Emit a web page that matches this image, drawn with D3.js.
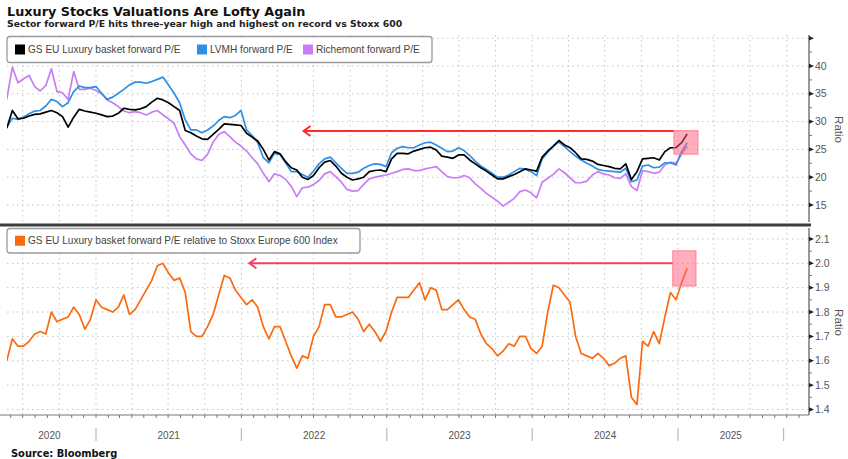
<!DOCTYPE html>
<html><head><meta charset="utf-8">
<script src="https://cdn.jsdelivr.net/npm/d3@7"></script>
<style>body{margin:0;background:#fff}svg{display:block}</style>
</head><body>
<svg id="chart" width="848" height="459"></svg>
<script>
// ---------- DATA ----------
const startDate = "2020-05-22";   // first observation
const stepDays = 14;              // bi-weekly observations
const gsLuxuryPE = [28.8,32.0,30.5,30.6,31.0,31.3,31.4,31.7,32.0,31.6,
  30.9,29.0,30.8,32.2,31.9,31.7,31.5,31.2,30.9,31.0,
  31.5,32.4,32.2,32.1,32.3,32.7,33.5,34.2,33.9,33.4,
  32.7,32.0,28.4,28.0,27.4,26.9,26.8,27.7,28.6,29.6,
  29.5,29.4,29.3,27.9,27.2,26.5,25.0,23.1,24.6,24.2,
  22.8,21.7,21.3,20.0,19.6,20.3,21.7,22.7,23.0,22.0,
  20.7,20.0,19.5,19.7,20.0,21.0,21.2,21.3,21.0,23.3,
  24.3,24.3,24.2,24.7,25.0,25.3,25.4,24.9,23.8,23.6,
  23.4,24.0,24.0,23.1,22.4,21.7,21.1,20.4,19.7,19.7,
  20.1,20.5,21.0,21.5,21.3,21.1,23.6,24.7,25.6,26.6,
  25.8,25.3,24.4,23.3,23.2,22.9,22.3,22.1,21.9,21.6,
  21.5,22.4,19.6,21.0,23.3,23.4,23.5,23.1,24.6,25.3,
  25.3,26.2,27.8];
const lvmhPE = [29.0,30.6,30.4,30.8,31.4,31.9,32.0,32.8,34.0,33.6,
  32.7,33.4,35.4,36.4,36.1,36.1,36.3,35.1,34.0,34.4,
  35.1,35.8,36.6,37.1,37.1,36.9,37.2,37.6,38.0,36.6,
  35.1,33.4,30.3,28.5,28.5,28.0,28.5,29.2,30.2,30.9,
  30.7,31.1,32.0,28.5,27.5,26.2,23.5,22.6,24.3,24.1,
  22.6,21.0,21.0,20.5,20.0,21.1,22.4,23.3,23.6,22.6,
  21.6,20.7,20.7,20.9,21.6,22.1,22.4,22.3,21.9,24.4,
  25.2,25.5,25.3,25.3,25.8,26.2,26.3,25.8,25.2,24.6,
  24.7,25.3,24.8,23.9,22.9,22.0,21.4,20.7,20.0,20.0,
  20.4,21.0,21.6,21.4,21.0,20.3,23.3,24.5,25.6,26.3,
  25.5,24.6,23.8,23.1,22.5,22.0,21.4,21.2,21.1,21.0,
  20.9,21.6,19.2,19.5,22.0,22.2,21.7,21.8,22.6,22.6,
  22.2,24.6,26.2];
const richemontPE = [34.0,39.8,37.0,37.7,38.3,36.3,35.5,36.5,39.5,35.4,
  35.2,34.0,39.0,35.8,35.8,36.0,35.6,35.0,33.9,33.4,
  32.7,31.9,31.6,31.8,31.6,31.2,31.7,32.0,31.2,30.5,
  29.7,27.3,25.8,24.2,23.3,23.0,24.1,26.3,27.7,28.2,
  27.3,26.3,25.6,24.7,23.5,22.4,20.7,19.2,20.6,20.3,
  19.6,18.4,16.5,18.1,18.2,18.7,19.4,20.6,21.0,20.1,
  19.1,17.8,17.5,17.6,18.7,19.7,20.0,20.2,20.4,20.7,
  21.0,21.4,21.5,21.2,21.2,21.5,21.7,21.9,21.0,20.1,
  19.9,19.9,20.3,19.9,18.8,18.0,17.1,16.4,15.7,14.8,
  15.5,16.2,17.4,17.7,17.2,16.3,19.1,19.8,20.5,21.5,
  20.8,19.9,19.0,19.0,19.3,20.4,21.0,20.6,20.4,19.9,
  19.8,20.6,18.3,17.6,21.2,21.0,20.7,20.9,22.2,22.7,
  22.5,24.1,25.6];
const relativePE = [1.60,1.69,1.66,1.66,1.68,1.71,1.72,1.71,1.80,1.76,
  1.77,1.78,1.82,1.79,1.73,1.77,1.85,1.82,1.81,1.80,
  1.82,1.87,1.79,1.81,1.85,1.89,1.93,1.99,2.00,1.96,
  1.93,1.94,1.88,1.72,1.70,1.70,1.74,1.79,1.87,1.95,
  1.94,1.89,1.86,1.83,1.85,1.82,1.74,1.69,1.74,1.74,
  1.68,1.62,1.57,1.62,1.61,1.70,1.74,1.83,1.83,1.78,
  1.78,1.79,1.80,1.77,1.72,1.75,1.72,1.68,1.72,1.80,
  1.86,1.86,1.86,1.89,1.92,1.85,1.90,1.89,1.81,1.81,
  1.83,1.85,1.81,1.78,1.77,1.71,1.67,1.65,1.62,1.64,
  1.67,1.66,1.70,1.70,1.65,1.63,1.66,1.80,1.91,1.90,
  1.87,1.84,1.70,1.63,1.62,1.61,1.63,1.61,1.58,1.59,
  1.61,1.62,1.45,1.42,1.68,1.66,1.72,1.67,1.78,1.88,
  1.85,1.92,1.98];

const topTicks = [15,20,25,30,35,40,45];
const topTickLabels = ["15","20","25","30","35","40",""];
const bottomTicks = [1.4,1.5,1.6,1.7,1.8,1.9,2.0,2.1];
const yearLabels = ["2020","2021","2022","2023","2024","2025"];
const yearBounds = ["2020-05-12","2021-01-01","2022-01-01","2023-01-01","2024-01-01","2025-01-01","2025-09-23"];
const topSeriesNames = ["GS EU Luxury basket forward P/E","LVMH forward P/E","Richemont forward P/E"];
const bottomSeriesName = "GS EU Luxury basket forward P/E relative to Stoxx Europe 600 Index";
const axisTitle = "Ratio";
const title = "Luxury Stocks Valuations Are Lofty Again";
const subtitle = "Sector forward P/E hits three-year high and highest on record vs Stoxx 600";
const source = "Source: Bloomberg";
// annotations (data space)
const topArrow = {from:"2024-12-22", to:"2022-06-06", value:28.3};
const topBox = {x0:"2024-12-22", x1:"2025-02-20", y0:24.15, y1:28.35};
const botArrow = {from:"2024-12-19", to:"2022-01-21", value:2.0};
const botBox = {x0:"2024-12-19", x1:"2025-02-15", y0:1.907, y1:2.051};

// ---------- CHART ----------
const svg = d3.select("#chart");
const parse = d3.utcParse("%Y-%m-%d");
const t0 = parse(startDate);
const dates = gsLuxuryPE.map((_, i) => d3.utcDay.offset(t0, i * stepDays));

const L = 7, R = 809;
const topPanel = {y0: 35, y1: 222};
const botPanel = {y0: 228, y1: 415};

const x = d3.scaleUtc().domain([parse("2021-01-01"), parse("2025-01-01")]).range([96, 678]);
const yTop = d3.scaleLinear().domain([15, 40]).range([205, 66]);
const yBot = d3.scaleLinear().domain([1.4, 2.0]).range([409.5, 263.3]);

const colors = {gs:"#000000", lvmh:"#2d8fe6", rich:"#c77ef5", rel:"#fb6a10"};
const font = "'Liberation Sans', Arial, sans-serif";
const boldFont = "'DejaVu Sans', Verdana, sans-serif";

// title
svg.append("text").attr("x", 7).attr("y", 15.5).text(title)
  .attr("font-family", boldFont).attr("font-weight", "bold").attr("font-size", 12.8).attr("fill", "#111");
svg.append("text").attr("x", 7).attr("y", 27).text(subtitle)
  .attr("font-family", boldFont).attr("font-weight", "bold").attr("font-size", 9.3).attr("fill", "#222");

const quarterDates = d3.utcMonth.every(3).range(x.invert(L), x.invert(R));
const monthDates = d3.utcMonth.every(1).range(x.invert(L), x.invert(R));

function gridPanel(panel, yScale, ticks) {
  const g = svg.append("g");
  g.selectAll("line.h").data(ticks).join("line")
    .attr("x1", L).attr("x2", R)
    .attr("y1", d => yScale(d)).attr("y2", d => yScale(d))
    .attr("stroke", "#c4c4c4").attr("stroke-width", 1).attr("stroke-dasharray", "1.5,3.5");
  g.selectAll("line.v").data(quarterDates).join("line")
    .attr("x1", d => x(d)).attr("x2", d => x(d))
    .attr("y1", panel.y0).attr("y2", panel.y1)
    .attr("stroke", "#c4c4c4").attr("stroke-width", 1).attr("stroke-dasharray", "1.5,3.5");
}
gridPanel(topPanel, yTop, topTicks);
gridPanel(botPanel, yBot, bottomTicks);

// clip paths
const defs = svg.append("defs");
defs.append("clipPath").attr("id", "clipTop").append("rect")
  .attr("x", L).attr("y", topPanel.y0).attr("width", R - L).attr("height", topPanel.y1 - topPanel.y0);
defs.append("clipPath").attr("id", "clipBot").append("rect")
  .attr("x", L).attr("y", botPanel.y0).attr("width", R - L).attr("height", botPanel.y1 - botPanel.y0);

// lines
const lineTop = d3.line().x((d, i) => x(dates[i])).y(d => yTop(d));
const lineBot = d3.line().x((d, i) => x(dates[i])).y(d => yBot(d));
const gTop = svg.append("g").attr("clip-path", "url(#clipTop)");
[[richemontPE, colors.rich], [lvmhPE, colors.lvmh], [gsLuxuryPE, colors.gs]].forEach(([s, c]) => {
  gTop.append("path").datum(s).attr("d", lineTop).attr("fill", "none")
    .attr("stroke", c).attr("stroke-width", 1.7).attr("stroke-linejoin", "round");
});
const gBot = svg.append("g").attr("clip-path", "url(#clipBot)");
gBot.append("path").datum(relativePE).attr("d", lineBot).attr("fill", "none")
  .attr("stroke", colors.rel).attr("stroke-width", 1.7).attr("stroke-linejoin", "round");

// annotations
function drawAnno(arrow, box, yScale, color, boxFill, boxStroke) {
  const g = svg.append("g");
  const yA = yScale(arrow.value);
  const xs = x(parse(arrow.from)), xe = x(parse(arrow.to));
  g.append("line").attr("x1", xs).attr("x2", xe + 1).attr("y1", yA).attr("y2", yA)
    .attr("stroke", color).attr("stroke-width", 2);
  g.append("path").attr("d", `M${xe + 7},${yA - 5} L${xe},${yA} L${xe + 7},${yA + 5}`)
    .attr("fill", "none").attr("stroke", color).attr("stroke-width", 2);
  g.append("rect")
    .attr("x", x(parse(box.x0))).attr("width", x(parse(box.x1)) - x(parse(box.x0)))
    .attr("y", yScale(box.y1)).attr("height", yScale(box.y0) - yScale(box.y1))
    .attr("fill", boxFill).attr("stroke", boxStroke).attr("stroke-width", 1);
}
drawAnno(topArrow, topBox, yTop, "#ff2b2b", "rgba(255,95,120,0.5)", "#ff7a90");
drawAnno(botArrow, botBox, yBot, "#f2406a", "rgba(255,95,120,0.5)", "#ff7a90");

// panel separator
svg.append("rect").attr("x", 0).attr("y", 223.5).attr("width", R + 2).attr("height", 3).attr("fill", "#3d3d3d");

// right axes
function rightAxis(panel, yScale, ticks, labels, fmt) {
  const g = svg.append("g");
  g.append("line").attr("x1", R).attr("x2", R).attr("y1", panel.y0).attr("y2", panel.y1)
    .attr("stroke", "#555").attr("stroke-width", 1.2);
  const minors = [];
  for (let i = 0; i < ticks.length - 1; i++) minors.push((ticks[i] + ticks[i + 1]) / 2);
  g.selectAll("line.minor").data(minors).join("line")
    .attr("x1", R).attr("x2", R + 3).attr("y1", d => yScale(d)).attr("y2", d => yScale(d))
    .attr("stroke", "#777").attr("stroke-width", 1);
  g.selectAll("path.major").data(ticks).join("path")
    .attr("d", d => `M${R},${yScale(d) - 2.2} L${R + 5},${yScale(d)} L${R},${yScale(d) + 2.2} Z`)
    .attr("fill", "#222");
  g.selectAll("text").data(ticks).join("text")
    .attr("x", R + 6).attr("y", d => yScale(d) + 3.6)
    .text((d, i) => labels ? labels[i] : fmt(d))
    .attr("font-family", font).attr("font-size", 10.5).attr("fill", "#555");
  const cy = (panel.y0 + panel.y1) / 2;
  g.append("text").attr("transform", `translate(835,${cy + 1}) rotate(90)`)
    .attr("text-anchor", "middle").text(axisTitle)
    .attr("font-family", font).attr("font-size", 11.5).attr("fill", "#555");
}
rightAxis(topPanel, yTop, topTicks, topTickLabels, d => d);
rightAxis(botPanel, yBot, bottomTicks, null, d3.format(".1f"));

// bottom x axis
const gx = svg.append("g");
gx.append("line").attr("x1", 0).attr("x2", R).attr("y1", botPanel.y1).attr("y2", botPanel.y1)
  .attr("stroke", "#777").attr("stroke-width", 1);
gx.selectAll("line.m").data(monthDates).join("line")
  .attr("x1", d => x(d)).attr("x2", d => x(d)).attr("y1", botPanel.y1).attr("y2", botPanel.y1 + 3)
  .attr("stroke", "#777").attr("stroke-width", 1);
const bounds = yearBounds.map(parse);
gx.selectAll("line.sep").data(bounds.slice(1)).join("line")
  .attr("x1", d => x(d)).attr("x2", d => x(d)).attr("y1", 428).attr("y2", 441)
  .attr("stroke", "#bbb").attr("stroke-width", 1.2);
gx.selectAll("text").data(yearLabels).join("text")
  .attr("x", (d, i) => (x(bounds[i]) + x(bounds[i + 1])) / 2).attr("y", 439)
  .attr("text-anchor", "middle").text(d => d)
  .attr("font-family", font).attr("font-size", 10).attr("fill", "#555");

// legends
function legend(items, box) {
  const g = svg.append("g");
  g.append("rect").attr("x", box.x).attr("y", box.y).attr("width", box.w).attr("height", box.h)
    .attr("rx", 3).attr("fill", "#fff").attr("stroke", "#9a9a9a").attr("stroke-width", 1.3);
  items.forEach(it => {
    g.append("rect").attr("x", it.x).attr("y", box.y + box.h / 2 - 5).attr("width", 10).attr("height", 10)
      .attr("fill", it.color);
    g.append("text").attr("x", it.x + 13).attr("y", box.y + box.h / 2 + 3.7).text(it.name)
      .attr("font-family", font).attr("font-size", 10.1).attr("fill", "#444");
  });
}
legend([
  {name: topSeriesNames[0], color: colors.gs, x: 15},
  {name: topSeriesNames[1], color: colors.lvmh, x: 197},
  {name: topSeriesNames[2], color: colors.rich, x: 303}
], {x: 7, y: 36.5, w: 425, h: 26});
legend([
  {name: bottomSeriesName, color: colors.rel, x: 15}
], {x: 7, y: 228.5, w: 353, h: 24.5});

// source
svg.append("text").attr("x", 11).attr("y", 456.5).text(source)
  .attr("font-family", boldFont).attr("font-weight", "bold").attr("font-size", 9.9).attr("fill", "#111");
</script>
</body></html>
